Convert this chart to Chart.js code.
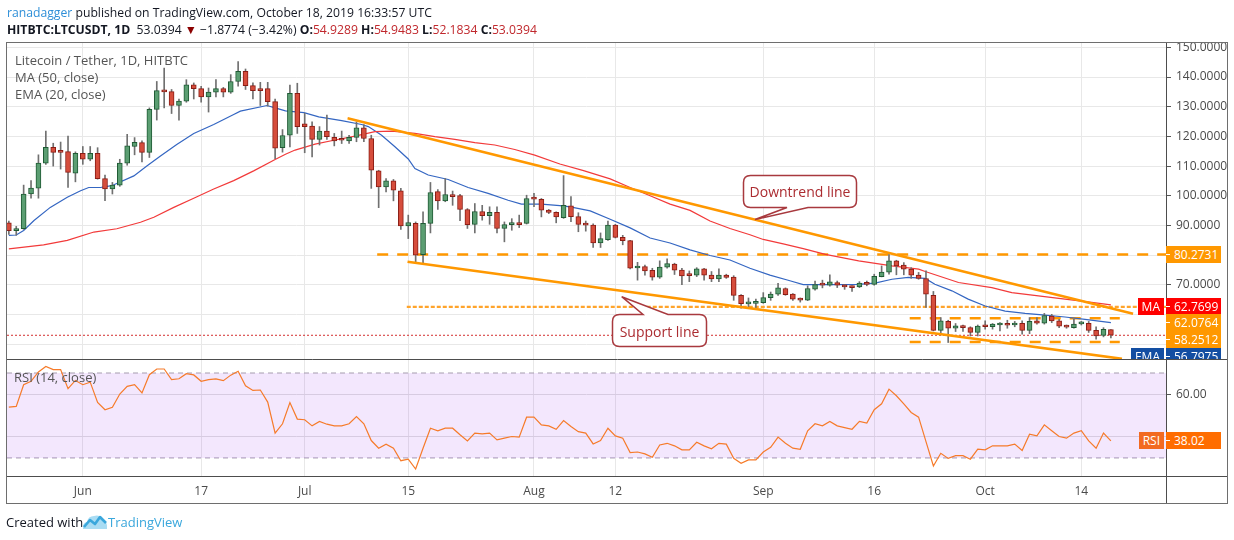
<!DOCTYPE html>
<html>
<head>
<meta charset="utf-8">
<title>Litecoin / Tether, 1D, HITBTC</title>
<script src="https://cdn.jsdelivr.net/npm/chart.js@4.4.1/dist/chart.umd.min.js"></script>
<style>
html,body{margin:0;padding:0;background:#fff}
#page{position:relative;width:1234px;height:540px;overflow:hidden;font-family:'Open Sans',sans-serif;color:#131722}
#chart{position:absolute;left:0;top:0}
.txt{position:absolute;white-space:nowrap;font-size:12.2px}
.leg{position:absolute;left:15px;font-size:13px;color:#555;white-space:nowrap}
.red{color:#c0282d}
.clip{position:absolute;overflow:hidden}
.tag{position:absolute;height:17px;line-height:17px;font-size:12px;color:#fff;white-space:nowrap;box-sizing:border-box}
.tag.r{left:66px;width:55px;padding-left:8px}
.tag.r:before{content:'';position:absolute;left:0;top:8px;width:4px;height:1px;background:#fff}
.tag.l{padding:0 4px;text-align:center}
.callout{position:absolute;font-size:14px;color:#ab2c31;white-space:nowrap;transform:translate(-50%,-50%)}
svg{position:absolute;left:0;top:0}
</style>
</head>
<body>
<div id="page">
<canvas id="chart" width="1234" height="540"></canvas>

<svg width="1234" height="540">
  <path d="M750.5,175.5 H849.5 Q856.5,175.5 856.5,182.5 V200.5 Q856.5,207.5 849.5,207.5 H808 L755,219.5 L787,207.5 H750.5 Q743.5,207.5 743.5,200.5 V182.5 Q743.5,175.5 750.5,175.5 Z" fill="#fff" stroke="#a8393e" stroke-width="1.5"/>
  <path d="M619.5,314.5 H643 L621.7,296.7 L668,314.5 H699.5 Q706.5,314.5 706.5,321.5 V339.5 Q706.5,346.5 699.5,346.5 H619.5 Q612.5,346.5 612.5,339.5 V321.5 Q612.5,314.5 619.5,314.5 Z" fill="#fff" stroke="#a8393e" stroke-width="1.5"/>
  <g transform="translate(82,513)">
    <path d="M1,16 Q0,10 5,9 Q6,3 12,3 Q18,1 20,7 Q26,8 25,16 Z" fill="#a9dcf3"/>
    <path d="M2,14 L8,7 L13,11 L18,4 L24,10" stroke="#3aa7dc" stroke-width="2.6" fill="none" stroke-linejoin="round"/>
  </g>
</svg>

<div class="callout" style="left:800px;top:191px">Downtrend line</div>
<div class="callout" style="left:659.5px;top:330.5px">Support line</div>

<div class="txt" style="left:7px;top:4px"><span style="color:#2e8fd8">ranadagger</span> published on TradingView.com, October 18, 2019 16:33:57 UTC</div>
<div class="txt" style="left:7px;top:21px"><b>HITBTC:LTCUSDT, 1D</b>&nbsp; 53.0394 <span style="color:#8b0000">&#9660;</span> &minus;1.8774 (&minus;3.42%) <b>O:</b><span class="red">54.9289</span> <b>H:</b><span class="red">54.9483</span> <b>L:</b><span class="red">52.1834</span> <b>C:</b><span class="red">53.0394</span></div>

<div class="leg" style="top:51px">Litecoin / Tether, 1D, HITBTC</div>
<div class="leg" style="top:68px">MA (50, close)</div>
<div class="leg" style="top:85px">EMA (20, close)</div>
<div class="leg" style="top:368px;left:14px">RSI (14, close)</div>

<div class="txt" style="left:6px;top:513px;font-size:13px">Created with</div>
<div class="txt" style="left:108px;top:513px;font-size:13px;color:#3aa7dc">TradingView</div>

<div class="clip" id="mainTags" style="left:1100px;top:43px;width:128px;height:316px"></div>
<div class="clip" id="rsiTags" style="left:1100px;top:360px;width:128px;height:116px"></div>
</div>

<script>
// daily candles, 22 May .. 18 Oct 2019 (index 0 = 22 May)
var opens = [90.9,88.3,88.9,100.6,102.6,111.0,116.3,114.8,114.9,107.6,
114.3,112.3,114.3,105.8,102.3,103.6,111.0,116.6,117.9,114.6,
129.1,135.4,135.1,130.4,131.9,137.4,136.1,133.3,134.9,136.1,
134.9,138.5,141.9,137.1,135.6,136.1,131.7,116.2,120.4,134.5,
124.2,123.5,119.0,121.8,119.7,118.9,118.5,119.7,122.9,119.3,
108.4,103.0,105.0,101.7,89.9,90.7,80.2,90.7,101.4,98.3,
100.4,100.1,95.4,90.4,94.7,93.3,94.4,89.0,90.3,90.7,
90.7,99.2,98.8,95.2,94.4,92.6,96.6,93.0,90.6,90.1,
84.1,85.2,90.1,86.0,84.9,75.7,76.2,74.9,72.6,76.0,
77.0,75.0,73.3,73.3,75.4,73.3,72.0,73.3,72.6,66.5,
63.6,63.8,64.0,65.7,66.9,68.8,66.9,65.3,64.9,68.6,
70.3,69.9,70.8,70.0,69.4,69.3,70.6,70.2,72.8,74.3,
78.1,76.7,75.3,73.3,72.1,66.5,54.7,57.7,55.4,56.2,
55.6,54.0,56.5,55.9,56.5,56.8,56.5,57.1,54.7,57.9,
57.1,59.5,57.9,56.2,55.6,56.9,57.1,54.7,53.0,54.93]
var highs = [91.5,89.7,103.6,105.1,113.8,121.8,117.7,118.1,120.1,114.8,
116.6,116.6,116.2,107.0,104.5,112.3,120.7,119.6,118.5,129.6,
138.5,143.0,135.8,132.6,139.1,138.0,136.9,136.3,139.1,136.5,
140.8,145.2,142.7,138.0,138.2,138.2,132.6,122.3,137.3,137.9,
127.8,124.9,123.3,127.2,121.0,121.8,120.4,124.9,124.0,120.4,
108.6,105.8,105.5,102.5,93.5,91.2,94.6,104.5,102.1,105.8,
101.6,100.5,95.7,97.4,96.8,96.3,96.3,91.2,92.3,93.5,
100.2,100.8,99.1,95.4,94.6,106.8,99.7,94.3,91.5,90.6,
87.5,91.5,90.4,86.7,85.0,77.6,76.7,75.6,78.1,78.8,
77.3,75.6,74.7,75.8,75.6,74.5,75.4,73.6,73.1,66.7,
65.6,65.2,67.4,67.6,70.5,69.0,67.1,65.6,69.7,71.3,
71.6,73.4,71.3,70.2,69.7,71.1,71.3,73.6,76.4,80.3,
78.3,77.5,75.8,74.2,74.7,67.8,59.0,58.1,57.0,56.5,
55.9,56.5,57.9,57.0,57.3,58.1,57.7,57.9,59.0,59.0,
60.4,60.1,58.4,56.5,58.4,57.7,57.7,55.9,55.6,54.95]
var lows = [87.0,86.7,88.7,99.2,99.2,110.6,110.0,109.0,102.8,104.7,
110.6,111.8,105.6,98.4,100.6,103.2,110.3,113.8,111.4,112.9,
125.5,129.6,127.7,125.5,131.5,132.6,131.5,128.2,133.3,133.3,
134.5,136.9,135.8,132.6,130.4,130.2,112.5,114.7,116.5,121.0,
114.5,113.1,117.1,119.0,116.8,117.6,117.6,118.2,118.2,102.5,
96.0,101.3,98.3,88.7,85.6,77.4,77.2,87.5,95.4,98.0,
96.8,91.6,89.0,87.5,91.8,90.4,87.5,84.5,88.4,89.3,
90.5,96.3,92.9,94.0,90.9,92.4,91.3,87.9,88.1,82.6,
82.6,85.0,85.8,83.5,75.4,71.6,73.3,71.6,72.2,75.6,
73.5,70.1,71.1,72.8,71.6,71.1,71.1,72.2,64.8,62.2,
62.5,62.2,63.8,64.8,66.5,66.5,64.8,64.2,64.7,68.2,
69.0,69.6,69.1,68.5,67.8,69.1,69.7,69.9,72.7,73.6,
73.4,73.4,72.2,71.9,62.4,54.5,53.2,50.6,54.3,54.3,
52.8,52.8,55.1,55.1,54.5,55.4,55.9,53.4,53.6,56.8,
56.8,57.3,55.6,55.4,55.4,56.5,54.0,51.7,52.5,52.18]
var closes = [88.3,89.0,100.6,102.6,111.0,116.3,114.6,114.6,107.9,114.3,
112.3,114.3,105.8,102.3,103.6,111.0,116.8,118.0,114.6,129.1,
135.4,135.0,130.4,131.9,137.4,136.1,133.3,134.9,136.1,134.9,
138.5,141.9,137.1,135.4,135.4,131.7,116.0,120.3,134.5,123.3,
123.3,119.0,121.8,119.9,118.5,118.7,119.7,122.9,119.3,108.6,
103.0,105.0,101.9,89.9,91.0,80.0,90.7,101.1,98.3,100.4,
99.7,95.4,90.3,94.7,93.3,94.4,89.0,90.3,90.7,90.3,
99.1,98.9,95.2,94.4,92.9,96.8,93.0,90.4,90.1,84.1,
85.6,90.1,86.0,84.9,75.6,76.0,74.7,72.6,76.0,77.2,
75.0,73.0,73.1,75.4,73.3,72.0,73.3,72.5,66.5,63.7,
64.2,64.0,65.7,66.9,69.0,66.7,65.2,64.9,68.8,70.1,
69.9,71.0,69.9,69.3,69.1,70.6,70.2,72.9,74.3,78.1,
76.4,75.3,73.3,72.2,66.9,54.7,57.9,55.4,56.2,55.6,
54.0,56.1,55.9,56.8,57.0,56.4,57.1,54.7,57.7,57.1,
59.7,57.9,56.1,55.8,56.8,57.3,54.7,52.8,55.0,53.04]

// RSI(14) per day
var rsiVals = [53.9,54.3,64.5,66.1,70.5,73.1,71.6,71.6,62.6,66.5,
64.5,65.7,56.1,52.7,53.9,60.1,63.7,64.5,60.6,69.2,
71.9,71.9,66.9,67.3,69.7,69.1,66.1,66.9,67.2,66.4,
69.0,70.8,64.0,61.8,62.0,56.3,41.7,46.1,56.1,48.3,
48.0,45.1,47.2,45.9,45.1,45.1,46.1,49.5,46.1,38.2,
34.6,36.5,34.6,28.7,29.4,24.8,34.6,44.0,42.8,44.0,
44.0,40.9,38.0,41.7,41.3,41.7,38.5,39.3,40.1,39.8,
49.2,49.2,45.6,45.1,43.5,47.6,44.8,42.4,41.7,36.6,
38.2,44.0,40.4,39.3,32.5,32.8,31.9,30.3,36.1,36.9,
35.7,33.8,33.8,37.4,35.7,34.3,36.9,36.5,29.8,27.5,
29.1,29.1,32.8,35.0,39.8,36.9,34.6,34.1,42.8,46.1,
45.1,47.2,45.1,44.3,43.5,47.2,46.4,52.7,55.5,62.4,
59.3,55.5,51.4,49.2,37.7,26.2,32.2,29.8,31.1,31.1,
29.4,34.1,33.8,35.7,35.7,35.7,36.5,33.5,41.2,40.4,
45.6,42.8,40.1,39.3,41.7,42.8,38.0,34.6,41.7,38.02]

// moving averages (day index, price)
var maX = [0,4.7,7.9,11.5,14.6,17.8,19.6,22.3,25,27.7,30.4,33.1,36,37.4,38.7,41.4,44.1,46.8,49.5,51.8,54.9,57.6,60.3,63,65.7,68.4,71.1,74.5,77.7,81.3,84,86.7,89.4,92.1,94.8,97.5,100.2,102,104.7,107.4,110.4,114.9,119.4,123,123.9,128.4,132.9,135.6,139.2,142.8,146.4,149]
var maY = [82.1,83.5,85.0,87.8,88.9,91.1,92.8,96.1,99.2,102.3,105.1,108.4,112.2,114.0,115.4,117.4,118.8,120.1,121.6,121.8,121.0,119.9,119.0,117.9,117.1,115.6,113.7,110.7,108.5,105.7,102.8,100.0,97.2,95.1,91.5,89.0,86.9,85.3,83.8,82.2,80.3,78.1,76.4,75.3,74.5,70.8,69.1,67.4,66.3,65.2,64.1,63.3]
var emaX = [0,1,2,3.4,5.6,7.9,9.7,10.8,12.4,13.9,16.9,18.7,20.5,22.7,25,27.7,30.4,31.3,34.9,36,37.4,39.9,41.9,45,47.7,48.6,50.4,52.2,54,54.9,56.7,59.4,62.1,64.8,67.5,69.3,72,74.5,75.9,78.6,81.3,84,86.7,89.4,92.1,94.8,97.5,100.2,102.9,105.6,107.4,109.2,111.7,114.9,117.1,119.4,121.6,123.9,125.2,127.5,129.7,132,134.7,137.4,140.1,142.8,145.5,149]
var emaY = [86.7,86.8,88.3,91.7,96.1,99.5,101.7,102.8,102.8,103.4,106.7,110.1,113.4,117.3,121.0,124.0,127.4,128.5,130.4,129.6,128.6,128.0,126.6,125.3,124.0,123.3,120.4,116.5,112.4,109.2,107.0,105.5,102.8,100.8,98.5,97.2,97.2,96.7,96.3,94.9,92.1,89.2,85.8,84.1,81.8,79.9,78.4,75.6,73.3,71.4,70.1,70.1,70.1,70.2,70.6,71.9,72.5,72.2,70.2,68.0,65.2,62.9,61.2,60.4,59.8,59.2,58.4,57.3]

// drawn lines (day index, price)
var downX = [45.8, 152], downY = [126.1, 60.3]
var supX = [53.9, 150.5], supY = [77.8, 45.1]
var resistLevel = 80.27, resistFrom = 49.8
var dotLevel = 62.6, dotFrom = 53.8
var boxTop = 58.8, boxBottom = 50.8, boxFrom = 121.8, boxTo = 150.2
var lastClose = 53.04

// axis ticks
var tickIdx = [10, 26, 40, 54, 71, 82, 102, 117, 132, 145]
var tickText = ['Jun', '17', 'Jul', '15', 'Aug', '12', 'Sep', '16', 'Oct', '14']
var priceTicks = [50, 60, 70, 80, 90, 100, 110, 120, 130, 140, 150]
var hiddenPrice = [50, 60, 80]

// price tags on the right
var tagVals = [80.2731, 62.7699, 62.0764, 58.2512, 56.7975]
var tagSide = ['', 'MA', '', '', 'EMA']
var tagColor = ['#ff9800', '#ff0000', '#ff9800', '#ff9800', '#134ea2']
var tagSideColor = ['', '#ff0000', '', '', '#134ea2']

var xMin = -0.25, xMax = 156.45

function pts(xs, ys) {
    return xs.map(function(x, i) { return {x: x, y: ys[i]} })
}
function flat(y, a, b) {
    return [{x: a, y: y}, {x: b, y: y}]
}

var wicks = opens.map(function(o, i) { return {x: i, y: [lows[i], highs[i]]} })
var bodies = opens.map(function(o, i) { return {x: i, y: [Math.min(o, closes[i]), Math.max(o, closes[i])]} })
var bodyFill = opens.map(function(o, i) { return closes[i] >= o ? '#5b9e72' : '#d64d3c' })
var bodyLine = opens.map(function(o, i) { return closes[i] >= o ? '#1f5a34' : '#8a1d15' })
var rsiPts = rsiVals.map(function(v, i) { return {x: i, y: v} })

function lineSet(data, color, width, axis, order, dash) {
    return {
        type: 'line', data: data, borderColor: color, borderWidth: width,
        pointRadius: 0, tension: 0, fill: false, yAxisID: axis, order: order,
        borderDash: dash || []
    }
}

function addTag(box, top, text, side, color, sideColor) {
    var r = document.createElement('div')
    r.className = 'tag r'
    r.style.top = top + 'px'
    r.style.background = color
    r.textContent = text
    box.appendChild(r)
    if (side) {
        var l = document.createElement('div')
        l.className = 'tag l'
        l.style.top = top + 'px'
        l.style.right = '64px'
        l.style.background = sideColor
        l.textContent = side
        box.appendChild(l)
    }
}

function placeTags(chart) {
    var ys = chart.scales.y, yr = chart.scales.yr
    var box = document.getElementById('mainTags')
    box.innerHTML = ''
    var last = -100
    tagVals.forEach(function(v, i) {
        var py = ys.getPixelForValue(v)
        if (py < last + 16.6) py = last + 16.6
        last = py
        addTag(box, py - ys.top - 8.5, v.toFixed(4), tagSide[i], tagColor[i], tagSideColor[i])
    })
    var rbox = document.getElementById('rsiTags')
    rbox.innerHTML = ''
    var rv = rsiVals[rsiVals.length - 1]
    addTag(rbox, yr.getPixelForValue(rv) - 360 - 8.5, rv.toFixed(2), 'RSI', '#ff6d00', '#f26a21')
}

var framePlugin = {
    id: 'frame',
    afterDraw: function(chart) {
        var ctx = chart.ctx, a = chart.chartArea, ys = chart.scales.y
        ctx.save()
        ctx.lineWidth = 1
        ctx.strokeStyle = '#4d4d4d'
        ctx.beginPath()
        var sep = Math.round(ys.bottom) + 0.5
        ctx.moveTo(a.left, sep); ctx.lineTo(1228, sep)
        var ax = Math.round(a.bottom) + 0.5
        ctx.moveTo(a.left, ax); ctx.lineTo(1228, ax)
        ctx.moveTo(Math.round(a.right) + 0.5, a.top); ctx.lineTo(Math.round(a.right) + 0.5, 503)
        ctx.stroke()
        ctx.strokeStyle = '#6e6e6e'
        ctx.strokeRect(6.5, 42.5, 1221, 461)
        ctx.restore()
        placeTags(chart)
    }
}

Chart.defaults.font.family = "'Open Sans', sans-serif"
Chart.defaults.color = '#4a4a4a'

var rsiBand = 'rgba(160,60,240,0.12)'

new Chart(document.getElementById('chart'), {
    type: 'line',
    data: {
        datasets: [
            {type: 'line', data: flat(70, xMin, xMax), borderColor: '#a59cae', borderWidth: 1, borderDash: [5, 4],
             pointRadius: 0, yAxisID: 'yr', order: 9, fill: '+1', backgroundColor: rsiBand},
            lineSet(flat(30, xMin, xMax), '#a59cae', 1, 'yr', 9, [5, 4]),
            lineSet(rsiPts, '#f67b2a', 1.2, 'yr', 1),
            lineSet(pts(maX, maY), '#f23a3a', 1.2, 'y', 5),
            lineSet(pts(emaX, emaY), '#3466c2', 1.2, 'y', 5),
            lineSet(flat(resistLevel, resistFrom, xMax), '#ff9800', 2.5, 'y', 6, [11, 9]),
            lineSet(flat(dotLevel, dotFrom, xMax), '#ffa42b', 2.2, 'y', 6, [4, 2]),
            lineSet(flat(boxTop, boxFrom, boxTo), '#ff9800', 2.5, 'y', 6, [11, 9]),
            lineSet(flat(boxBottom, boxFrom, boxTo), '#ff9800', 2.5, 'y', 6, [11, 9]),
            lineSet(flat(lastClose, xMin, xMax), '#d32f2f', 1, 'y', 6, [2, 2]),
            {type: 'bar', data: wicks, backgroundColor: '#707070', borderWidth: 0, barThickness: 1,
             grouped: false, yAxisID: 'y', order: 4},
            {type: 'bar', data: bodies, backgroundColor: bodyFill, borderColor: bodyLine, borderWidth: 1,
             borderSkipped: false, barThickness: 5, minBarLength: 2, grouped: false, yAxisID: 'y', order: 3},
            lineSet(pts(downX, downY), '#ff9800', 2.5, 'y', 0),
            lineSet(pts(supX, supY), '#ff9800', 2.5, 'y', 0)
        ]
    },
    options: {
        responsive: false,
        animation: false,
        events: [],
        layout: {padding: {left: 7, right: 6, top: 43, bottom: 37}},
        plugins: {legend: {display: false}, tooltip: {enabled: false}},
        scales: {
            x: {
                type: 'linear', min: xMin, max: xMax, offset: false,
                afterBuildTicks: function(s) { s.ticks = tickIdx.map(function(v) { return {value: v} }) },
                afterFit: function(s) { s.height = 27 },
                grid: {color: '#e8e8e8', drawTicks: false, offset: false},
                border: {display: true, color: '#4d4d4d'},
                ticks: {
                    autoSkip: false, maxRotation: 0, padding: 8, color: '#4a4a4a', font: {size: 12},
                    callback: function(v, i) { return tickText[i] }
                }
            },
            y: {
                type: 'linear', position: 'right', stack: 'panes', stackWeight: 316,
                min: 45.05, max: 151.45,
                afterBuildTicks: function(s) { s.ticks = priceTicks.map(function(v) { return {value: v} }) },
                afterFit: function(s) { s.width = 62 },
                grid: {color: '#e8e8e8', tickLength: 5, tickColor: '#555'},
                border: {display: true, color: '#4d4d4d'},
                ticks: {
                    autoSkip: false, padding: 5, color: '#4a4a4a', font: {size: 12},
                    callback: function(v) { return hiddenPrice.indexOf(v) >= 0 ? '' : v.toFixed(4) }
                }
            },
            yr: {
                type: 'linear', position: 'right', stack: 'panes', stackWeight: 117,
                min: 21.5, max: 76.6,
                afterBuildTicks: function(s) { s.ticks = [{value: 40}, {value: 60}] },
                afterFit: function(s) { s.width = 62 },
                grid: {color: '#e0e0e0', tickLength: 5, tickColor: '#555'},
                border: {display: true, color: '#4d4d4d'},
                ticks: {
                    autoSkip: false, padding: 5, color: '#4a4a4a', font: {size: 12},
                    callback: function(v) { return v === 60 ? '60.00' : '' }
                }
            }
        }
    },
    plugins: [framePlugin]
})
</script>
</body>
</html>
